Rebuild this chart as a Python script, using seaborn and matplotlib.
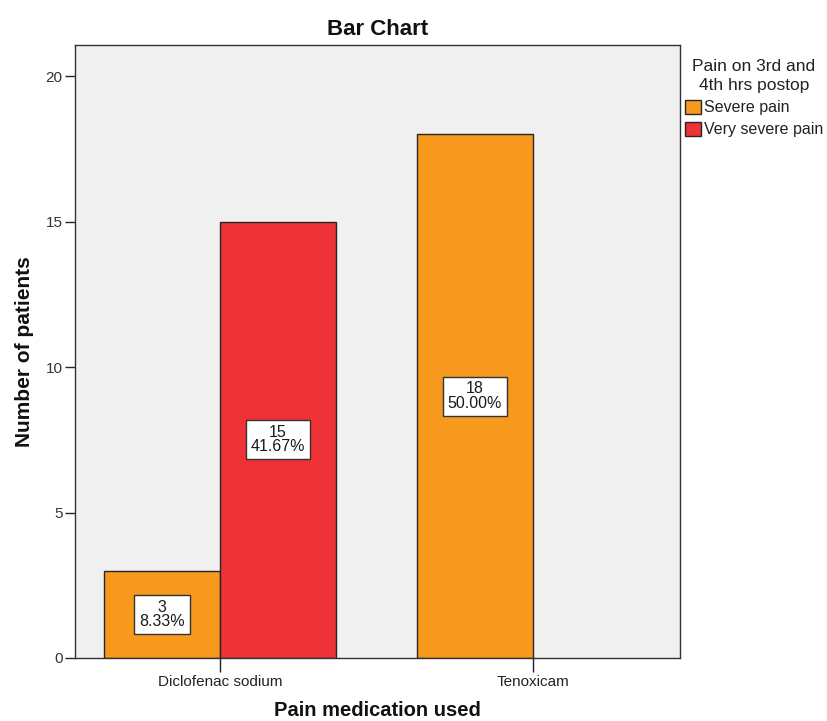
import matplotlib
matplotlib.use("Agg")
import matplotlib.pyplot as plt
import seaborn as sns
import pandas as pd

# Counts of patients by medication and pain level on 3rd/4th hour post-op
medications = ["Diclofenac sodium", "Diclofenac sodium", "Tenoxicam"]
pain_levels = ["Severe pain", "Very severe pain", "Severe pain"]
patients = [3, 15, 18]

med_order = ["Diclofenac sodium", "Tenoxicam"]
pain_order = ["Severe pain", "Very severe pain"]
pain_colors = ["#F7991C", "#EF3237"]
yticks = [0, 5, 10, 15, 20]

df = pd.DataFrame({"medication": medications, "pain": pain_levels, "patients": patients})
total = df["patients"].sum()

sns.set_theme(style="white")
plt.rcParams["font.family"] = ["Liberation Sans", "DejaVu Sans"]

fig = plt.figure(figsize=(8.27, 7.21), dpi=100)
ax = fig.add_axes([0.0907, 0.0874, 0.7315, 0.8502])
ax.set_facecolor("#F0F0F0")

sns.barplot(
    data=df, x="medication", y="patients", hue="pain",
    order=med_order, hue_order=pain_order, palette=pain_colors,
    width=0.74, gap=0, edgecolor="#262626", linewidth=1.0,
    saturation=1, errorbar=None, ax=ax,
)

# Count and percentage in a white box at the middle of each bar
for container in ax.containers:
    labels = [f"{v:.0f}\n{v / total * 100:.2f}%" for v in container.datavalues]
    ax.bar_label(
        container, labels=labels, label_type="center", fontsize=11.5,
        color="#1a1a1a", linespacing=0.95,
        bbox=dict(boxstyle="square,pad=0.3", facecolor="white",
                  edgecolor="#333333", linewidth=1.0),
    )

ax.set_xlim(-0.463, 1.470)
ax.set_ylim(0, 21.07)
ax.set_yticks(yticks)
ax.set_yticklabels([str(t) for t in yticks], fontsize=11, color="#333333")
ax.tick_params(axis="x", labelsize=11, colors="#222222", length=10, width=1,
               direction="out", bottom=True, pad=2)
ax.tick_params(axis="y", length=7, width=1, direction="out", left=True, pad=2)
for lab in ax.get_xticklabels():
    lab.set_color("#222222")

for side in ["left", "right", "top", "bottom"]:
    ax.spines[side].set_visible(True)
    ax.spines[side].set_color("#333333")
    ax.spines[side].set_linewidth(1.0)

ax.set_title("Bar Chart", fontsize=16, fontweight="bold", color="#111111", pad=7)
ax.set_xlabel("Pain medication used", fontsize=14.5, fontweight="bold", color="#111111", labelpad=9)
ax.set_ylabel("Number of patients", fontsize=15, fontweight="bold", color="#111111", labelpad=8)

leg = ax.legend(
    title="Pain on 3rd and\n4th hrs postop", loc="upper left",
    bbox_to_anchor=(1.0, 0.985), frameon=False, fontsize=11.5, title_fontsize=12.5,
    handlelength=1.0, handleheight=1.0, handletextpad=0.2, borderaxespad=0.2,
    labelspacing=0.4, borderpad=0.1,
)
leg.get_title().set_multialignment("center")
leg.get_title().set_linespacing(1.35)
leg.get_title().set_color("#222222")
for t in leg.get_texts():
    t.set_color("#222222")

fig.savefig("out.png", dpi=100, facecolor="white")
